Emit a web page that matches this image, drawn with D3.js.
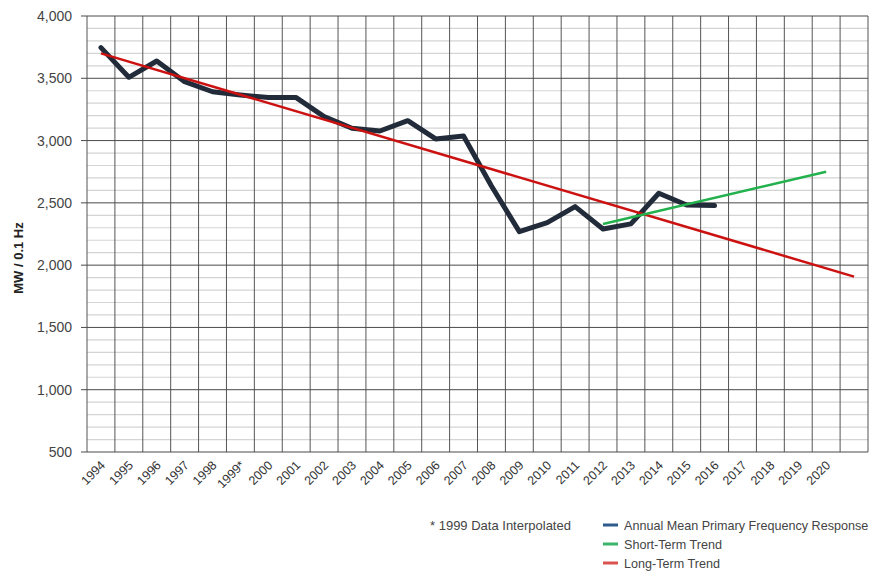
<!DOCTYPE html><meta charset="utf-8">
<title>Primary Frequency Response</title>
<style>
  body{margin:0;background:#fff;font-family:"Liberation Sans",Arial,sans-serif}
  svg{display:block}
</style>
<script src="https://d3js.org/d3.v7.min.js"></script>
<body><script>
const years = d3.range(1994, 2022);               // 28 bands, last one unlabeled
const tickLabels = ["1994","1995","1996","1997","1998","1999*","2000","2001","2002","2003",
  "2004","2005","2006","2007","2008","2009","2010","2011","2012","2013","2014","2015",
  "2016","2017","2018","2019","2020",""];
const pfrYears  = d3.range(1994, 2017);
const pfrValues = [3746,3508,3639,3473,3392,3366,3345,3345,3192,3099,3077,3160,3013,3037,
  2635,2269,2341,2470,2290,2331,2577,2483,2478];
const shortYears = [2012, 2020], shortValues = [2331, 2750];
const longYears  = [1994, 2021], longValues  = [3700, 1908];
const yTicks = [500,1000,1500,2000,2500,3000,3500,4000];
const legendItems = [
  {label:"Annual Mean Primary Frequency Response", color:"#2f5b8c"},
  {label:"Short-Term Trend", color:"#3cb56a"},
  {label:"Long-Term Trend", color:"#d9534f"}
];

const W = 870, H = 572;
const m = {left:87, right:2, top:16, bottom:120};
const svg = d3.select("body").append("svg").attr("width",W).attr("height",H);

const x = d3.scaleBand().domain(years).range([m.left, W-m.right]).padding(0);
const y = d3.scaleLinear().domain([500,4000]).range([H-m.bottom, m.top]);
const cx = d => x(d) + x.bandwidth()/2;

/* ---- grid ---- */
const grid = svg.append("g");
grid.selectAll(".minor").data(d3.range(500,4001,100).filter(v=>v%500))
  .join("line").attr("x1",m.left).attr("x2",W-m.right)
  .attr("y1",d=>y(d)).attr("y2",d=>y(d))
  .attr("stroke","#d4d4d4").attr("stroke-width",1.2);
grid.selectAll(".vert").data(years.concat([null]))
  .join("line")
  .attr("x1",d=>d===null?W-m.right:x(d)).attr("x2",d=>d===null?W-m.right:x(d))
  .attr("y1",m.top).attr("y2",H-m.bottom)
  .attr("stroke","#555").attr("stroke-width",1);
grid.selectAll(".major").data(yTicks)
  .join("line").attr("x1",m.left-6).attr("x2",W-m.right)
  .attr("y1",d=>y(d)).attr("y2",d=>y(d))
  .attr("stroke","#4a4a4a").attr("stroke-width",1);

/* ---- axes text ---- */
svg.append("g").selectAll("text").data(yTicks).join("text")
  .attr("x",72).attr("y",d=>y(d)+5).attr("text-anchor","end")
  .attr("font-size",14).attr("fill","#444")
  .text(d3.format(","));

svg.append("text").attr("transform","translate(23,258) rotate(-90)")
  .attr("text-anchor","middle").attr("font-size",13).attr("font-weight","bold")
  .attr("fill","#222").text("MW / 0.1 Hz");

svg.append("g").selectAll("text").data(years).join("text")
  .attr("transform",d=>`translate(${cx(d)+5},${H-m.bottom+14}) rotate(-45)`)
  .attr("text-anchor","end").attr("font-size",12.5).attr("fill","#333")
  .text((d,i)=>tickLabels[i]);

/* ---- series ---- */
const line = d3.line().x(d=>cx(d[0])).y(d=>y(d[1]));
svg.append("path").datum(d3.zip(pfrYears,pfrValues))
  .attr("d",line).attr("fill","none").attr("stroke","#222b39")
  .attr("stroke-width",5).attr("stroke-linejoin","round").attr("stroke-linecap","round");
svg.append("path").datum(d3.zip(longYears,longValues))
  .attr("d",line).attr("fill","none").attr("stroke","#cc1111").attr("stroke-width",2.5);
svg.append("path").datum(d3.zip(shortYears,shortValues))
  .attr("d",line).attr("fill","none").attr("stroke","#22b14c").attr("stroke-width",2.5);

/* ---- notes & legend ---- */
svg.append("text").attr("x",430).attr("y",530).attr("font-size",13).attr("fill","#444")
  .text("* 1999 Data Interpolated");
const lg = svg.append("g").selectAll("g").data(legendItems).join("g")
  .attr("transform",(d,i)=>`translate(603,${525+i*19})`);
lg.append("line").attr("x1",0).attr("x2",15).attr("stroke",d=>d.color).attr("stroke-width",3);
lg.append("text").attr("x",21).attr("y",4.5).attr("font-size",12.6).attr("fill","#444")
  .text(d=>d.label);
</script>
